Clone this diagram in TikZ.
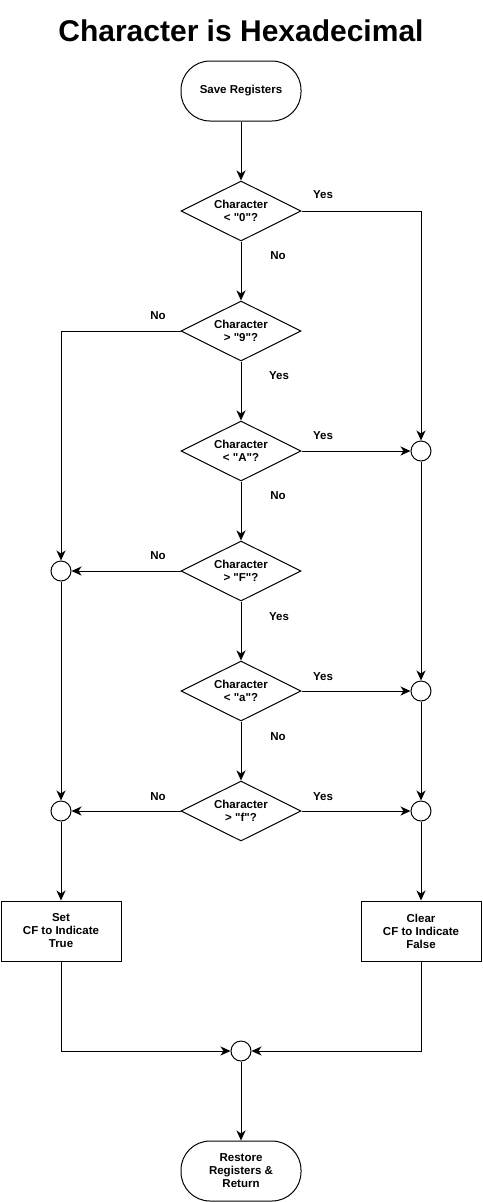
\documentclass[tikz,border=0pt]{standalone}
\usepackage{fontspec}
\newfontfamily\arialf{Liberation Sans}
\usetikzlibrary{arrows.meta,shapes.geometric}
\begin{document}
\begin{tikzpicture}[x=1pt,y=-1pt,
  every node/.style={font=\arialf\fontsize{11.5}{13}\selectfont\bfseries},
  line/.style={draw=black,line width=1pt},
  arr/.style={line,-{Stealth[length=10pt,width=9pt,inset=3pt]}},
  term/.style={draw,line width=1pt,rounded corners=29pt,minimum width=120pt,minimum height=60pt,align=center,inner sep=0pt},
  dec/.style={draw,line width=1pt,diamond,aspect=2,minimum width=120pt,minimum height=60pt,inner sep=0pt,align=center},
  junc/.style={draw,line width=1pt,circle,minimum size=20pt,inner sep=0pt,fill=white},
  proc/.style={draw,line width=1pt,rectangle,minimum width=120pt,minimum height=60pt,align=center,inner sep=0pt},
  lbl/.style={font=\arialf\fontsize{11.5}{13}\selectfont\bfseries}
]
\useasboundingbox (0,0) rectangle (482,1202);
\node[font=\arialf\fontsize{30}{34}\selectfont\bfseries] (title) at (241,31) {Character is Hexadecimal};
\node[term] (start) at (241,91) {Save Registers};
\node[dec] (d1) at (241,211) {Character\\{<} "0"?};
\node[dec] (d2) at (241,331) {Character\\{>} "9"?};
\node[dec] (d3) at (241,451) {Character\\{<} "A"?};
\node[dec] (d4) at (241,571) {Character\\{>} "F"?};
\node[dec] (d5) at (241,691) {Character\\{<} "a"?};
\node[dec] (d6) at (241,811) {Character\\{>} "f"?};
\node[junc] (l1) at (61,571) {};
\node[junc] (l2) at (61,811) {};
\node[junc] (r1) at (421,451) {};
\node[junc] (r2) at (421,691) {};
\node[junc] (r3) at (421,811) {};
\node[proc] (set) at (61,931) {Set\\CF to Indicate\\True};
\node[proc] (clr) at (421,931) {Clear\\CF to Indicate\\False};
\node[junc] (jb) at (241,1051) {};
\node[term] (end) at (241,1171) {Restore\\Registers \&\\Return};

\draw[arr] (start) -- (d1);
\draw[arr] (d1.east) -| (r1.north);
\draw[arr] (d1) -- (d2);
\draw[arr] (d2.west) -| (l1.north);
\draw[arr] (d2) -- (d3);
\draw[arr] (d3.east) -- (r1.west);
\draw[arr] (d3) -- (d4);
\draw[arr] (d4.west) -- (l1.east);
\draw[arr] (d4) -- (d5);
\draw[arr] (d5.east) -- (r2.west);
\draw[arr] (d5) -- (d6);
\draw[arr] (d6.west) -- (l2.east);
\draw[arr] (d6.east) -- (r3.west);
\draw[arr] (r1) -- (r2);
\draw[arr] (r2) -- (r3);
\draw[arr] (l1) -- (l2);
\draw[arr] (l2) -- (set);
\draw[arr] (r3) -- (clr);
\draw[arr] (set.south) |- (jb.west);
\draw[arr] (clr.south) |- (jb.east);
\draw[arr] (jb) -- (end);

\node[lbl] (y1) at (323,195) {Yes};
\node[lbl] (n1) at (278,256) {No};
\node[lbl] (n2) at (158,316) {No};
\node[lbl] (y2) at (279,376) {Yes};
\node[lbl] (y3) at (323,436) {Yes};
\node[lbl] (n3) at (278,496) {No};
\node[lbl] (n4) at (158,556) {No};
\node[lbl] (y4) at (279,617) {Yes};
\node[lbl] (y5) at (323,677) {Yes};
\node[lbl] (n5) at (278,737) {No};
\node[lbl] (n6) at (158,797) {No};
\node[lbl] (y6) at (323,797) {Yes};
\end{tikzpicture}
\end{document}
